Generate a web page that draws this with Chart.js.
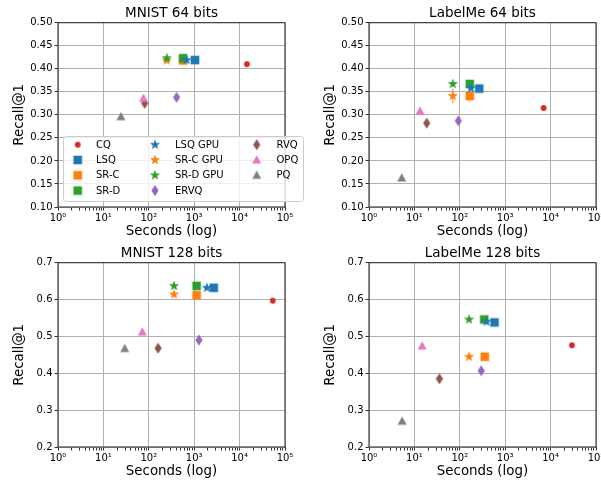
<!DOCTYPE html>
<html>
<head>
<meta charset="utf-8">
<script src="https://cdn.jsdelivr.net/npm/chart.js@4.4.0/dist/chart.umd.min.js"></script>
<style>
  body { margin: 0; background: #fff; width: 601px; height: 481px; position: relative; overflow: hidden; }
  canvas { position: absolute; }
</style>
</head>
<body>
<canvas id="c1" width="311" height="240" style="left:0;top:0"></canvas>
<canvas id="c2" width="290" height="240" style="left:311px;top:0"></canvas>
<canvas id="c3" width="311" height="241" style="left:0;top:240px"></canvas>
<canvas id="c4" width="290" height="241" style="left:311px;top:240px"></canvas>
<script>
// methods in legend order
const methods = ['CQ', 'LSQ', 'SR-C', 'SR-D', 'LSQ GPU', 'SR-C GPU', 'SR-D GPU', 'ERVQ', 'RVQ', 'OPQ', 'PQ'];
const colors = ['#d62728', '#1f77b4', '#ff7f0e', '#2ca02c', '#1f77b4', '#ff7f0e', '#2ca02c', '#9467bd', '#8c564b', '#e377c2', '#7f7f7f'];
const shapes = ['circle', 'square', 'square', 'square', 'star', 'star', 'star', 'diamond', 'diamond', 'triangle', 'triangle'];

// MNIST 64 bits
const mnist64Time   = [14500, 1040, 570, 570, 680, 247, 250, 410, 81, 76, 24.3];
const mnist64Recall = [0.410, 0.419, 0.418, 0.423, 0.419, 0.418, 0.423, 0.338, 0.325, 0.336, 0.296];
const mnist64Err    = [0, 0.002, 0.003, 0.002, 0.002, 0.005, 0.003, 0.005, 0.006, 0.004, 0.002];

// LabelMe 64 bits
const labelme64Time   = [7000, 268, 166, 166, 175, 70, 70, 93, 18.7, 13.3, 5.25];
const labelme64Recall = [0.315, 0.357, 0.341, 0.367, 0.358, 0.341, 0.367, 0.287, 0.282, 0.308, 0.163];
const labelme64Err    = [0, 0.003, 0.012, 0.005, 0.003, 0.016, 0.004, 0.006, 0.006, 0.003, 0.003];

// MNIST 128 bits
const mnist128Time   = [53700, 2690, 1130, 1130, 1900, 359, 359, 1270, 160, 72, 29.5];
const mnist128Recall = [0.597, 0.632, 0.612, 0.637, 0.632, 0.614, 0.637, 0.490, 0.468, 0.512, 0.467];
const mnist128Err    = [0, 0.003, 0.003, 0.003, 0.003, 0.003, 0.003, 0.012, 0.008, 0.005, 0.003];

// LabelMe 128 bits
const labelme128Time   = [29500, 580, 355, 345, 387, 160, 160, 296, 35.5, 14.8, 5.35];
const labelme128Recall = [0.476, 0.538, 0.445, 0.546, 0.540, 0.445, 0.546, 0.407, 0.385, 0.474, 0.270];
const labelme128Err    = [0, 0.004, 0.004, 0.004, 0.004, 0.004, 0.004, 0.010, 0.010, 0.004, 0.004];

const xTickPowers = [0, 1, 2, 3, 4, 5];
const sup = ['\u2070', '\u00b9', '\u00b2', '\u00b3', '\u2074', '\u2075'];

Chart.defaults.font.family = "'DejaVu Sans', sans-serif";
Chart.defaults.color = '#000';

function makeMarker(shape, color) {
    const s = 14;
    const c = document.createElement('canvas');
    c.width = s; c.height = s;
    const g = c.getContext('2d');
    g.fillStyle = color;
    g.translate(s / 2, s / 2);
    g.beginPath();
    if (shape === 'circle') {
        g.arc(0, 0, 2.9, 0, Math.PI * 2);
    } else if (shape === 'square') {
        g.rect(-4.3, -4.3, 8.6, 8.6);
    } else if (shape === 'star') {
        for (let i = 0; i < 10; i++) {
            const r = i % 2 ? 2.2 : 5.4;
            const a = -Math.PI / 2 + i * Math.PI / 5;
            g.lineTo(r * Math.cos(a), r * Math.sin(a));
        }
        g.closePath();
    } else if (shape === 'diamond') {
        g.moveTo(0, -5.6); g.lineTo(3.6, 0); g.lineTo(0, 5.6); g.lineTo(-3.6, 0); g.closePath();
    } else if (shape === 'triangle') {
        g.moveTo(0, -4.8); g.lineTo(4.5, 3.4); g.lineTo(-4.5, 3.4); g.closePath();
    }
    g.fill();
    return c;
}
const markers = methods.map((m, i) => makeMarker(shapes[i], colors[i]));

function isDecade(v) {
    const e = Math.round(Math.log10(v));
    return Math.abs(v - Math.pow(10, e)) < 1e-6 * v;
}

const errorBars = {
    id: 'errorBars',
    beforeDatasetsDraw(chart) {
        const ctx = chart.ctx;
        const y = chart.scales.y;
        chart.data.datasets.forEach((ds, i) => {
            const meta = chart.getDatasetMeta(i);
            ds.data.forEach((p, j) => {
                if (!p.err) return;
                const px = meta.data[j].x;
                ctx.save();
                ctx.strokeStyle = ds.barColor;
                ctx.globalAlpha = 0.6;
                ctx.lineWidth = 1.5;
                ctx.beginPath();
                ctx.moveTo(px, y.getPixelForValue(p.y - p.err));
                ctx.lineTo(px, y.getPixelForValue(p.y + p.err));
                ctx.stroke();
                ctx.restore();
            });
        });
    }
};

const frame = {
    id: 'frame',
    afterDatasetsDraw(chart, args, opts) {
        const a = chart.chartArea, ctx = chart.ctx;
        ctx.save();
        ctx.strokeStyle = '#333';
        ctx.lineWidth = 1.1;
        ctx.strokeRect(a.left, a.top, a.right - a.left, a.bottom - a.top);
        ctx.fillStyle = '#000';
        ctx.font = "13.5px 'DejaVu Sans'";
        ctx.textAlign = 'center';
        ctx.textBaseline = 'middle';
        ctx.fillText(opts.text, (a.left + a.right) / 2, 13.5);
        ctx.restore();
    }
};

const legendBox = {
    id: 'legendBox',
    afterDraw(chart) {
        const ctx = chart.ctx;
        const bx = 63, by = 136, bw = 240, bh = 65;
        ctx.save();
        ctx.fillStyle = 'rgba(255,255,255,0.8)';
        ctx.strokeStyle = '#cccccc';
        ctx.lineWidth = 1;
        ctx.beginPath();
        ctx.roundRect(bx + 0.5, by + 0.5, bw, bh, 3);
        ctx.fill();
        ctx.stroke();
        const colMarker = [77.7, 155, 256.7];
        const colText = [96, 175, 276.5];
        ctx.font = "10px 'DejaVu Sans'";
        ctx.textBaseline = 'middle';
        ctx.fillStyle = '#000';
        methods.forEach((m, i) => {
            const col = Math.floor(i / 4), row = i % 4;
            const y = 144.7 + row * 15.3;
            const mk = markers[i];
            ctx.drawImage(mk, colMarker[col] - mk.width / 2, y - mk.height / 2);
            ctx.fillText(m, colText[col], y + 0.5);
        });
        ctx.restore();
    }
};

function makePanel(id, title, times, recalls, errs, yMin, yMax, yStep, digits, xHeight, withLegend) {
    const canvas = document.getElementById(id);
    const datasets = methods.map((m, i) => ({
        label: m,
        data: [{ x: times[i], y: recalls[i], err: errs[i] }],
        pointStyle: markers[i],
        barColor: colors[i],
        backgroundColor: colors[i],
        borderColor: colors[i],
        showLine: false,
        order: methods.length - i
    }));
    const plugins = [errorBars, frame];
    if (withLegend) plugins.push(legendBox);
    new Chart(canvas, {
        type: 'scatter',
        data: { datasets: datasets },
        plugins: plugins,
        options: {
            responsive: false,
            animation: false,
            events: [],
            layout: { padding: { top: 22.7, left: 0, right: canvas.width - 285, bottom: 0 } },
            plugins: {
                legend: { display: false },
                tooltip: { enabled: false },
                frame: { text: title }
            },
            scales: {
                x: {
                    type: 'logarithmic',
                    min: 1,
                    max: 1e5,
                    afterBuildTicks: s => {
                        const t = [];
                        for (let e = 0; e < 5; e++) {
                            for (let k = 1; k < 10; k++) t.push({ value: k * Math.pow(10, e) });
                        }
                        t.push({ value: 1e5 });
                        s.ticks = t;
                    },
                    afterFit: s => { s.height = xHeight; s.paddingLeft = 0; s.paddingRight = 0; },
                    ticks: {
                        autoSkip: false,
                        maxRotation: 0,
                        padding: 1.5,
                        font: { size: 10 },
                        callback: v => {
                            if (!isDecade(v)) return '';
                            const e = Math.round(Math.log10(v));
                            return xTickPowers.includes(e) ? '10' + sup[e] : '';
                        }
                    },
                    grid: {
                        color: c => (c.tick && isDecade(c.tick.value)) ? '#b0b0b0' : 'rgba(0,0,0,0)',
                        lineWidth: 1,
                        tickColor: '#333',
                        tickLength: 3.5
                    },
                    border: { display: false },
                    title: { display: true, text: 'Seconds (log)', font: { size: 13.4 }, padding: { top: 0, bottom: xHeight - 33 } }
                },
                y: {
                    min: yMin,
                    max: yMax,
                    afterFit: s => { s.width = 58; s.paddingTop = 0; s.paddingBottom = 0; },
                    ticks: {
                        stepSize: yStep,
                        padding: 2,
                        font: { size: 10 },
                        callback: v => Number(v).toFixed(digits)
                    },
                    grid: { color: '#b0b0b0', lineWidth: 1, tickColor: '#333', tickLength: 3.5 },
                    border: { display: false },
                    title: { display: true, text: 'Recall@1', font: { size: 13.4 }, padding: { top: 11.5, bottom: 0 } }
                }
            }
        }
    });
}

makePanel('c1', 'MNIST 64 bits', mnist64Time, mnist64Recall, mnist64Err, 0.1, 0.5, 0.05, 2, 33, true);
makePanel('c2', 'LabelMe 64 bits', labelme64Time, labelme64Recall, labelme64Err, 0.1, 0.5, 0.05, 2, 33, false);
makePanel('c3', 'MNIST 128 bits', mnist128Time, mnist128Recall, mnist128Err, 0.2, 0.7, 0.1, 1, 34, false);
makePanel('c4', 'LabelMe 128 bits', labelme128Time, labelme128Recall, labelme128Err, 0.2, 0.7, 0.1, 1, 34, false);
</script>
</body>
</html>
